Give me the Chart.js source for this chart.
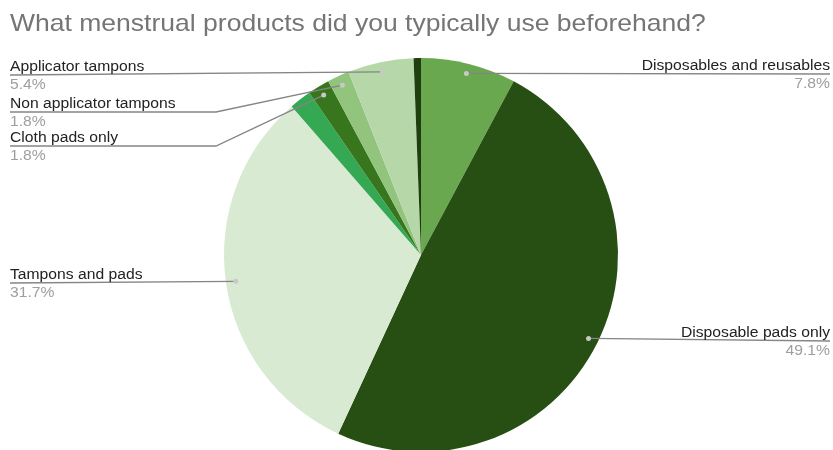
<!DOCTYPE html>
<html lang="en"><head><meta charset="utf-8">
<title>Menstrual products</title>
<script src="https://cdn.jsdelivr.net/npm/chart.js@4.4.0/dist/chart.umd.min.js"></script>
<style>
  html, body { margin: 0; padding: 0; background: #fff; overflow: hidden; }
  .wrap { width: 833px; height: 450px; overflow: hidden; position: relative; }
  #pie { display: block; }
</style>
</head>
<body>
<div class="wrap">
  <canvas id="pie" width="833" height="520"></canvas>
</div>

<script>
const chartTitle = 'What menstrual products did you typically use beforehand?';

// slices in drawing order, clockwise from 12 o'clock ('' = no label shown)
const categories = [
  'Disposables and reusables',
  'Disposable pads only',
  'Tampons and pads',
  '',
  'Cloth pads only',
  'Non applicator tampons',
  'Applicator tampons',
  ''
];
const shares = [7.8, 49.1, 31.7, 1.8, 1.8, 1.8, 5.4, 0.6];
const sliceColors = ['#6aa84f', '#274e13', '#d9ead3', '#34a853', '#38761d', '#93c47d', '#b6d7a8', '#1f3f0f'];

// where each visible label sits: side, underline y, and the bend x of the leader
const labelSpots = {
  'Disposables and reusables': { side: 'right', y: 74 },
  'Disposable pads only':      { side: 'right', y: 341 },
  'Tampons and pads':          { side: 'left',  y: 283 },
  'Cloth pads only':           { side: 'left',  y: 146, bend: 216 },
  'Non applicator tampons':    { side: 'left',  y: 112, bend: 216 },
  'Applicator tampons':        { side: 'left',  y: 75 }
};

// text is drawn a bit wide
function wideText(c, str, x, y, align, stretch) {
  c.save();
  c.translate(x, y);
  c.scale(stretch, 1);
  c.textAlign = align;
  c.fillText(str, 0, 0);
  c.restore();
}

const titlePlugin = {
  id: 'titleText',
  afterDraw(chart) {
    const c = chart.ctx;
    c.save();
    c.font = '24px "Liberation Sans", Arial, sans-serif';
    c.fillStyle = '#757575';
    c.textBaseline = 'alphabetic';
    wideText(c, chartTitle, 10, 31, 'left', 1.105);
    c.restore();
  }
};

// leader lines + name/percent text
const calloutPlugin = {
  id: 'callouts',
  afterDraw(chart) {
    const c = chart.ctx;
    const arcs = chart.getDatasetMeta(0).data;
    const W = chart.width;
    c.save();
    arcs.forEach((arc, i) => {
      const name = categories[i];
      const spot = labelSpots[name];
      if (!spot) return;
      const mid = (arc.startAngle + arc.endAngle) / 2;
      const r = arc.outerRadius * 0.95;
      const px = arc.x + Math.cos(mid) * r;
      const py = arc.y + Math.sin(mid) * r;

      const txtX = spot.side === 'left' ? 10 : W - 3;
      c.strokeStyle = '#858585';
      c.lineWidth = 1.3;
      c.beginPath();
      c.moveTo(txtX, spot.y);
      if (spot.bend) {
        c.lineTo(spot.bend, spot.y);
      }
      c.lineTo(px, py);
      c.stroke();

      c.fillStyle = '#c8c8c8';
      c.beginPath();
      c.arc(px, py, 2.5, 0, 2 * Math.PI);
      c.fill();

      const align = spot.side === 'left' ? 'left' : 'right';
      c.font = '14px "Liberation Sans", Arial, sans-serif';
      c.fillStyle = '#222';
      wideText(c, name, txtX, spot.y - 4, align, 1.12);
      c.fillStyle = '#9e9e9e';
      wideText(c, shares[i].toFixed(1) + '%', txtX, spot.y + 14, align, 1.12);
    });
    c.restore();
  }
};

new Chart(document.getElementById('pie'), {
  type: 'pie',
  data: {
    labels: categories,
    datasets: [{
      data: shares,
      backgroundColor: sliceColors,
      borderWidth: 0
    }]
  },
  options: {
    responsive: false,
    animation: false,
    layout: { padding: { left: 224, right: 215, top: 58, bottom: 68 } },
    plugins: {
      legend: { display: false },
      tooltip: { enabled: false }
    }
  },
  plugins: [titlePlugin, calloutPlugin]
});
</script>
</body>
</html>
